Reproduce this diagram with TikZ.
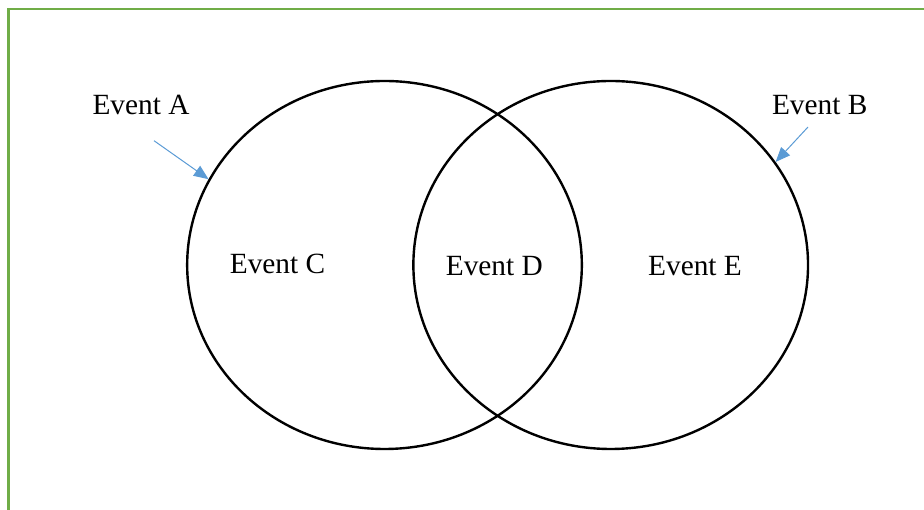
\documentclass[tikz,border=0pt]{standalone}
\usepackage{fontspec}
\setmainfont{Liberation Serif}
\usetikzlibrary{arrows.meta,shapes.geometric}
\definecolor{framegreen}{RGB}{112,173,71}
\definecolor{arrowblue}{RGB}{91,155,213}
\tikzset{
ring/.style={draw,ellipse,line width=1.8pt,inner sep=0pt,minimum width=296pt,minimum height=276pt},
event/.style={anchor=base,font=\fontsize{22}{26}\selectfont},
pointer/.style={arrowblue,line width=0.75pt,-{Triangle[length=11pt,width=9pt]}}
}
\begin{document}
\begin{tikzpicture}[x=0.75pt,y=0.75pt]
\useasboundingbox (0,0) rectangle (924,510);
\draw[framegreen,line width=2.2pt] (8.5,-5)--(8.5,501)--(930,501);
\node[ring] (setA) at (384.5,245) {};
\node[ring] (setB) at (610.7,245) {};
\node[event] (evA) at (141,395) {Event A};
\node[event] (evB) at (819.7,395) {Event B};
\node[event] (evC) at (277.5,236.7) {Event C};
\node[event] (evD) at (494.3,234) {Event D};
\node[event] (evE) at (695,234) {Event E};
\coordinate (tailA) at (154,369.3);
\coordinate (tailB) at (808,383);
\draw[pointer] (tailA)--(setA.154);
\draw[pointer] (tailB)--(setB.32);
\end{tikzpicture}
\end{document}
